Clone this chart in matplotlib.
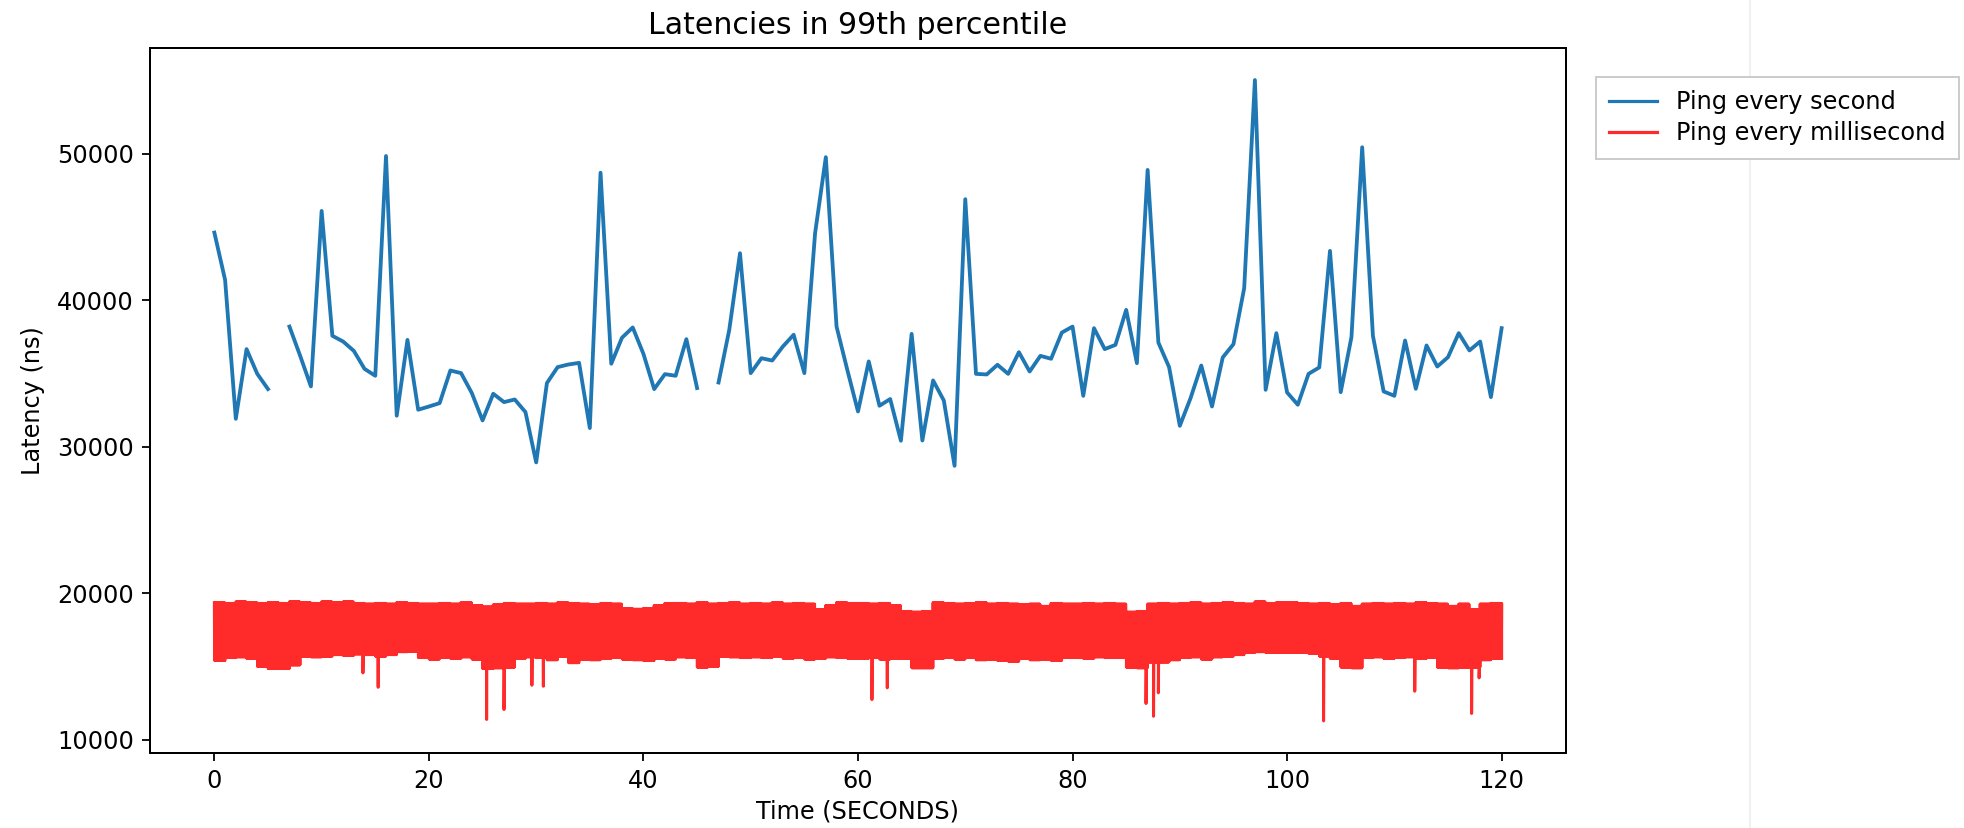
import numpy as np
import matplotlib
matplotlib.use('Agg')
import matplotlib.pyplot as plt
from matplotlib.lines import Line2D

nan = float('nan')

# 99th percentile latency, one value per second (ns), gaps where nothing was recorded
sec_t = list(range(0, 121))
sec_lat = [44630, 41400, 31910, 36670, 34980, 33940, nan, 38210, 36210, 34120,
           46110, 37580, 37190, 36550, 35320, 34850, 49860, 32120, 37300, 32530,
           32750, 32980, 35210, 35030, 33670, 31800, 33620, 33050, 33230, 32370,
           28930, 34350, 35440, 35620, 35730, 31280, 48720, 35670, 37450, 38150,
           36340, 33940, 34960, 34850, 37350, 34010, nan, 34390, 37990, 43220,
           35030, 36050, 35890, 36850, 37650, 35030, 44590, 49780, 38210, 35260,
           32410, 35830, 32800, 33260, 30410, 37710, 30430, 34530, 33160, 28700,
           46910, 34980, 34940, 35600, 34980, 36460, 35140, 36210, 36010, 37800,
           38210, 33480, 38100, 36670, 36960, 39350, 35710, 48910, 37120, 35440,
           31430, 33320, 35550, 32750, 36100, 37010, 40830, 55050, 33890, 37760,
           33710, 32870, 34980, 35420, 43380, 33730, 37490, 50460, 37580, 33780,
           33480, 37260, 33960, 36920, 35480, 36120, 37760, 36580, 37190, 33390,
           38100]

# ping every millisecond: upper / lower edge of the band for each second (ns)
band_top = [19350, 19300, 19400, 19350, 19300, 19350, 19300, 19400, 19350, 19300,
            19400, 19350, 19400, 19300, 19250, 19300, 19250, 19350, 19300, 19250,
            19250, 19300, 19250, 19350, 19150, 19050, 19200, 19300, 19250, 19250,
            19300, 19250, 19350, 19300, 19250, 19200, 19300, 19250, 18950, 18900,
            18950, 19150, 19300, 19300, 19250, 19350, 19250, 19300, 19350, 19250,
            19300, 19250, 19350, 19250, 19300, 19250, 18850, 19150, 19350, 19300,
            19300, 19250, 19300, 19150, 18750, 18700, 18750, 19350, 19300, 19250,
            19300, 19350, 19250, 19300, 19250, 19200, 19250, 19100, 19300, 19250,
            19250, 19300, 19250, 19300, 19250, 18700, 18750, 19250, 19300, 19250,
            19300, 19350, 19250, 19300, 19350, 19300, 19250, 19400, 19300, 19350,
            19350, 19300, 19250, 19300, 19200, 19300, 19100, 19250, 19300, 19250,
            19300, 19250, 19350, 19300, 19250, 19100, 19250, 18850, 19250, 19300]
band_bottom = [15400, 15600, 15650, 15550, 15000, 14850, 14850, 15100, 15700, 15650,
               15700, 15800, 15750, 15850, 15800, 15700, 15800, 16000, 16050, 15600,
               15500, 15600, 15550, 15650, 15500, 14850, 14900, 14950, 15550, 15650,
               15600, 15450, 15700, 15250, 15500, 15450, 15550, 15600, 15500, 15450,
               15400, 15550, 15500, 15650, 15600, 14950, 15000, 15700, 15650, 15600,
               15650, 15600, 15700, 15550, 15600, 15500, 15550, 15650, 15600, 15550,
               15550, 15600, 15500, 15550, 15550, 14900, 14900, 15550, 15600, 15500,
               15600, 15450, 15500, 15400, 15350, 15550, 15450, 15500, 15400, 15600,
               15600, 15550, 15650, 15600, 15600, 14950, 14900, 15300, 15300, 15450,
               15600, 15650, 15500, 15650, 15700, 15800, 15950, 16000, 15950, 15950,
               15950, 15950, 15900, 15700, 15550, 14950, 14900, 15600, 15650, 15550,
               15600, 15650, 15550, 15600, 14950, 14900, 14950, 14950, 15450, 15550]

# isolated slow pings below the band
dip_t = [13.85, 15.27, 25.38, 27.0, 29.6, 30.67, 61.3, 62.73,
         86.85, 87.55, 88.0, 103.4, 111.9, 117.2, 117.9]
dip_lat = [14550, 13570, 11370, 12050, 13710, 13640, 12730, 13530,
           12460, 11590, 13190, 11270, 13300, 11780, 14210]

# the millisecond trace jumps between the two edges many times each second
ms_x = []
ms_y = []
for i in range(len(band_top)):
    for k in range(40):
        ms_x.append(i + k / 40)
        ms_y.append(band_top[i] if k % 2 == 0 else band_bottom[i])
ms_x += [120, 120]
ms_y += [band_top[-1], band_bottom[-1]]
ms_x = np.array(ms_x + dip_t)
ms_y = np.array(ms_y + dip_lat)
order = np.argsort(ms_x, kind='stable')
ms_x = ms_x[order]
ms_y = ms_y[order]

plt.rcParams['font.family'] = 'DejaVu Sans'

fig = plt.figure(figsize=(1964 / 144, 828 / 144), dpi=144)
ax = fig.add_axes([150 / 1964, 1 - 753 / 828, 1416 / 1964, 705 / 828])

ax.plot(sec_t, sec_lat, color='#1f77b4', linewidth=1.9, label='Ping every second')
ax.plot(ms_x, ms_y, color='#ff2b2b', linewidth=1.5, label='Ping every millisecond')

ax.set_title('Latencies in 99th percentile', fontsize=15, pad=7)
ax.set_xlabel('Time (SECONDS)', fontsize=12, labelpad=3)
ax.set_ylabel('Latency (ns)', fontsize=12, labelpad=6)
ax.tick_params(labelsize=12, length=4, width=0.9, pad=4)
for s in ax.spines.values():
    s.set_linewidth(1.0)

# legend sits outside the axes and runs off the right edge, as in the original
leg = ax.legend(loc='upper left', bbox_to_anchor=(1.021, 0.959), borderaxespad=0,
                fontsize=12, fancybox=False, edgecolor='#cccccc', framealpha=1,
                labelspacing=0.3, borderpad=0.55, handlelength=2.0, handletextpad=0.8)
for h in leg.get_lines():
    h.set_linewidth(1.6)

# faint edge line to the right of the plot
fig.add_artist(Line2D([1750 / 1964, 1750 / 1964], [0, 1], transform=fig.transFigure,
                      color='#f0f0f0', linewidth=1, zorder=-1))

fig.savefig('out.png', dpi=144)
